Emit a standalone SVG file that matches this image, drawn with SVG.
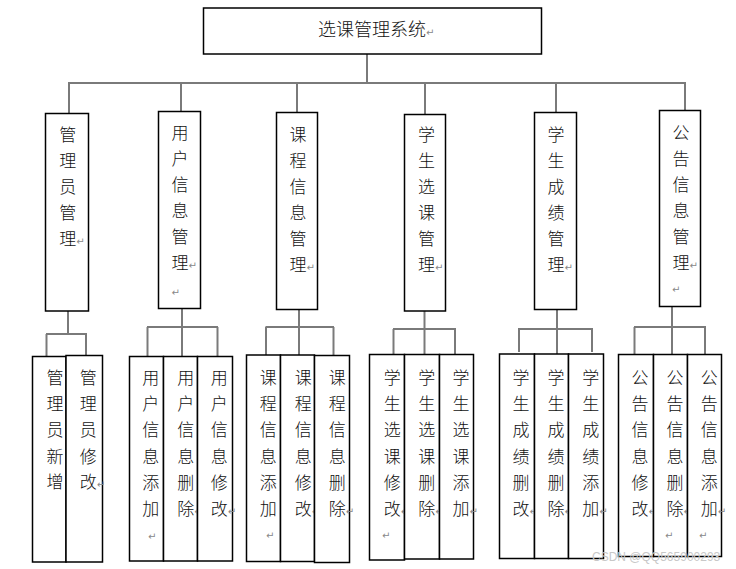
<svg xmlns="http://www.w3.org/2000/svg" width="736" height="569" viewBox="0 0 736 569">
<style>
.bx{fill:#fff;stroke:#000;stroke-width:1.5}
.cn line{stroke:#7a7a7a;stroke-width:2}
.t{font-family:"Noto Sans CJK SC","Noto Sans CJK JP",sans-serif;font-size:17px;font-weight:300;fill:#111}
.tt{font-family:"Noto Sans CJK SC","Noto Sans CJK JP",sans-serif;font-size:18px;font-weight:300;fill:#111}
.r{font-family:"DejaVu Sans",sans-serif;font-size:10px;font-weight:400;fill:#888}
.wm{font-family:"Liberation Sans",Arial,sans-serif;font-size:12px;fill:#c8c8c8}
</style>
<rect width="736" height="569" fill="#fff"/>
<g id="connectors" class="cn">
<line x1="367" y1="54" x2="367" y2="83"/>
<line x1="68" y1="83" x2="686" y2="83"/>
<line x1="69" y1="83" x2="69" y2="113"/>
<line x1="181" y1="83" x2="181" y2="111"/>
<line x1="297" y1="83" x2="297" y2="113"/>
<line x1="425" y1="83" x2="425" y2="115"/>
<line x1="556" y1="83" x2="556" y2="112"/>
<line x1="685" y1="83" x2="685" y2="110"/>
<line x1="68" y1="311" x2="68" y2="334"/>
<line x1="46" y1="334" x2="87" y2="334"/>
<line x1="46.5" y1="334" x2="46.5" y2="357"/>
<line x1="86" y1="334" x2="86" y2="355"/>
<line x1="182" y1="308" x2="182" y2="357"/>
<line x1="147" y1="327" x2="218" y2="327"/>
<line x1="147.5" y1="327" x2="147.5" y2="357"/>
<line x1="217.5" y1="327" x2="217.5" y2="357"/>
<line x1="299" y1="309" x2="299" y2="355"/>
<line x1="265.5" y1="327" x2="334" y2="327"/>
<line x1="266" y1="327" x2="266" y2="355"/>
<line x1="333.5" y1="327" x2="333.5" y2="355"/>
<line x1="424.5" y1="311" x2="424.5" y2="354"/>
<line x1="393" y1="329" x2="456" y2="329"/>
<line x1="393.5" y1="329" x2="393.5" y2="354"/>
<line x1="455" y1="329" x2="455" y2="354"/>
<line x1="557" y1="309" x2="557" y2="354"/>
<line x1="518" y1="329" x2="593" y2="329"/>
<line x1="519" y1="329" x2="519" y2="352"/>
<line x1="592" y1="329" x2="592" y2="352"/>
<line x1="672" y1="306" x2="672" y2="354"/>
<line x1="634" y1="327" x2="706" y2="327"/>
<line x1="634.5" y1="327" x2="634.5" y2="354"/>
<line x1="705" y1="327" x2="705" y2="354"/>
</g>
<g id="root">
<rect class="bx" x="203.5" y="8" width="338" height="46"/>
<text class="tt" x="318" y="36">选课管理系统<tspan class="r">↵</tspan></text>
</g>
<g id="n-admin">
<rect class="bx" x="45.5" y="113.5" width="43" height="197.5"/>
<text class="t" x="59.2" y="141"><tspan>管</tspan><tspan x="59.2" dy="26">理</tspan><tspan x="59.2" dy="26">员</tspan><tspan x="59.2" dy="26">管</tspan><tspan x="59.2" dy="25.5">理</tspan><tspan class="r">↵</tspan></text>
</g>
<g id="n-user">
<rect class="bx" x="158.5" y="111.5" width="42" height="197"/>
<text class="t" x="171.5" y="139"><tspan>用</tspan><tspan x="171.5" dy="26">户</tspan><tspan x="171.5" dy="26">信</tspan><tspan x="171.5" dy="26">息</tspan><tspan x="171.5" dy="26">管</tspan><tspan x="171.5" dy="26">理</tspan><tspan class="r">↵</tspan></text>
<text class="r" x="171.5" y="296">↵</text>
</g>
<g id="n-course">
<rect class="bx" x="276.5" y="112.5" width="41" height="197"/>
<text class="t" x="289.5" y="141"><tspan>课</tspan><tspan x="289.5" dy="26">程</tspan><tspan x="289.5" dy="26">信</tspan><tspan x="289.5" dy="26">息</tspan><tspan x="289.5" dy="26">管</tspan><tspan x="289.5" dy="26">理</tspan><tspan class="r">↵</tspan></text>
</g>
<g id="n-select">
<rect class="bx" x="404.5" y="114.5" width="41" height="196.5"/>
<text class="t" x="418" y="141"><tspan>学</tspan><tspan x="418" dy="26">生</tspan><tspan x="418" dy="26">选</tspan><tspan x="418" dy="26">课</tspan><tspan x="418" dy="26">管</tspan><tspan x="418" dy="26">理</tspan><tspan class="r">↵</tspan></text>
</g>
<g id="n-grade">
<rect class="bx" x="534.5" y="112.5" width="42" height="197"/>
<text class="t" x="547.5" y="141"><tspan>学</tspan><tspan x="547.5" dy="26">生</tspan><tspan x="547.5" dy="26">成</tspan><tspan x="547.5" dy="26">绩</tspan><tspan x="547.5" dy="26">管</tspan><tspan x="547.5" dy="26">理</tspan><tspan class="r">↵</tspan></text>
</g>
<g id="n-notice">
<rect class="bx" x="659.5" y="110.5" width="41" height="196"/>
<text class="t" x="672.5" y="139"><tspan>公</tspan><tspan x="672.5" dy="26">告</tspan><tspan x="672.5" dy="26">信</tspan><tspan x="672.5" dy="26">息</tspan><tspan x="672.5" dy="26">管</tspan><tspan x="672.5" dy="26">理</tspan><tspan class="r">↵</tspan></text>
<text class="r" x="672" y="293">↵</text>
</g>
<g id="l-admin-add">
<rect class="bx" x="32.5" y="356.5" width="33.5" height="205.5"/>
<text class="t" x="46.5" y="384"><tspan>管</tspan><tspan x="46.5" dy="25.5">理</tspan><tspan x="46.5" dy="26.5">员</tspan><tspan x="46.5" dy="26.5">新</tspan><tspan x="46.5" dy="25.5">增</tspan></text>
</g>
<g id="l-admin-edit">
<rect class="bx" x="66" y="355.5" width="36.5" height="206.5"/>
<text class="t" x="79.8" y="384"><tspan>管</tspan><tspan x="79.8" dy="25.5">理</tspan><tspan x="79.8" dy="26.5">员</tspan><tspan x="79.8" dy="26.5">修</tspan><tspan x="79.8" dy="25.5">改</tspan><tspan class="r">↵</tspan></text>
</g>
<g id="l-user-add">
<rect class="bx" x="129.5" y="356.5" width="34" height="204.5"/>
<text class="t" x="142.2" y="384"><tspan>用</tspan><tspan x="142.2" dy="25.5">户</tspan><tspan x="142.2" dy="26.5">信</tspan><tspan x="142.2" dy="26.5">息</tspan><tspan x="142.2" dy="26">添</tspan><tspan x="142.2" dy="26">加</tspan></text>
<text class="r" x="148" y="540">↵</text>
</g>
<g id="l-user-del">
<rect class="bx" x="163.5" y="356.5" width="34" height="204.5"/>
<text class="t" x="177.2" y="384"><tspan>用</tspan><tspan x="177.2" dy="25.5">户</tspan><tspan x="177.2" dy="26.5">信</tspan><tspan x="177.2" dy="26.5">息</tspan><tspan x="177.2" dy="26">删</tspan><tspan x="177.2" dy="26">除</tspan><tspan class="r">↵</tspan></text>
</g>
<g id="l-user-edit">
<rect class="bx" x="197.5" y="356.5" width="35" height="204.5"/>
<text class="t" x="210.8" y="384"><tspan>用</tspan><tspan x="210.8" dy="25.5">户</tspan><tspan x="210.8" dy="26.5">信</tspan><tspan x="210.8" dy="26.5">息</tspan><tspan x="210.8" dy="26">修</tspan><tspan x="210.8" dy="26">改</tspan><tspan class="r">↵</tspan></text>
</g>
<g id="l-course-add">
<rect class="bx" x="246.5" y="355" width="34" height="206.5"/>
<text class="t" x="259.8" y="384"><tspan>课</tspan><tspan x="259.8" dy="25.5">程</tspan><tspan x="259.8" dy="26.5">信</tspan><tspan x="259.8" dy="26.5">息</tspan><tspan x="259.8" dy="26">添</tspan><tspan x="259.8" dy="26">加</tspan></text>
<text class="r" x="266" y="539">↵</text>
</g>
<g id="l-course-edit">
<rect class="bx" x="280.5" y="355" width="34" height="206.5"/>
<text class="t" x="294.8" y="384"><tspan>课</tspan><tspan x="294.8" dy="25.5">程</tspan><tspan x="294.8" dy="26.5">信</tspan><tspan x="294.8" dy="26.5">息</tspan><tspan x="294.8" dy="26">修</tspan><tspan x="294.8" dy="26">改</tspan><tspan class="r">↵</tspan></text>
</g>
<g id="l-course-del">
<rect class="bx" x="314.5" y="355.5" width="35" height="207"/>
<text class="t" x="328.8" y="384"><tspan>课</tspan><tspan x="328.8" dy="25.5">程</tspan><tspan x="328.8" dy="26.5">信</tspan><tspan x="328.8" dy="26.5">息</tspan><tspan x="328.8" dy="26">删</tspan><tspan x="328.8" dy="26">除</tspan><tspan class="r">↵</tspan></text>
</g>
<g id="l-select-edit">
<rect class="bx" x="369.5" y="354.5" width="35" height="205.5"/>
<text class="t" x="383.8" y="384"><tspan>学</tspan><tspan x="383.8" dy="25.5">生</tspan><tspan x="383.8" dy="26.5">选</tspan><tspan x="383.8" dy="26.5">课</tspan><tspan x="383.8" dy="26">修</tspan><tspan x="383.8" dy="26">改</tspan><tspan class="r">↵</tspan></text>
<text class="r" x="382" y="539">↵</text>
</g>
<g id="l-select-del">
<rect class="bx" x="404.5" y="354.5" width="35" height="204.5"/>
<text class="t" x="418.2" y="384"><tspan>学</tspan><tspan x="418.2" dy="25.5">生</tspan><tspan x="418.2" dy="26.5">选</tspan><tspan x="418.2" dy="26.5">课</tspan><tspan x="418.2" dy="26">删</tspan><tspan x="418.2" dy="26">除</tspan><tspan class="r">↵</tspan></text>
</g>
<g id="l-select-add">
<rect class="bx" x="439.5" y="354.5" width="34" height="204.5"/>
<text class="t" x="452.5" y="384"><tspan>学</tspan><tspan x="452.5" dy="25.5">生</tspan><tspan x="452.5" dy="26.5">选</tspan><tspan x="452.5" dy="26.5">课</tspan><tspan x="452.5" dy="26">添</tspan><tspan x="452.5" dy="26">加</tspan><tspan class="r">↵</tspan></text>
</g>
<g id="l-grade-edit">
<rect class="bx" x="499.5" y="354" width="35" height="204.5"/>
<text class="t" x="512.5" y="384"><tspan>学</tspan><tspan x="512.5" dy="25.5">生</tspan><tspan x="512.5" dy="26.5">成</tspan><tspan x="512.5" dy="26.5">绩</tspan><tspan x="512.5" dy="26">删</tspan><tspan x="512.5" dy="26">改</tspan><tspan class="r">↵</tspan></text>
</g>
<g id="l-grade-del">
<rect class="bx" x="534.5" y="354" width="34" height="204.5"/>
<text class="t" x="547.5" y="384"><tspan>学</tspan><tspan x="547.5" dy="25.5">生</tspan><tspan x="547.5" dy="26.5">成</tspan><tspan x="547.5" dy="26.5">绩</tspan><tspan x="547.5" dy="26">删</tspan><tspan x="547.5" dy="26">除</tspan><tspan class="r">↵</tspan></text>
</g>
<g id="l-grade-add">
<rect class="bx" x="568.5" y="354" width="35" height="204.5"/>
<text class="t" x="582.2" y="384"><tspan>学</tspan><tspan x="582.2" dy="25.5">生</tspan><tspan x="582.2" dy="26.5">成</tspan><tspan x="582.2" dy="26.5">绩</tspan><tspan x="582.2" dy="26">添</tspan><tspan x="582.2" dy="26">加</tspan><tspan class="r">↵</tspan></text>
</g>
<g id="l-notice-edit">
<rect class="bx" x="618.5" y="354.5" width="35" height="202"/>
<text class="t" x="631.5" y="384"><tspan>公</tspan><tspan x="631.5" dy="25.5">告</tspan><tspan x="631.5" dy="26.5">信</tspan><tspan x="631.5" dy="26.5">息</tspan><tspan x="631.5" dy="26">修</tspan><tspan x="631.5" dy="26">改</tspan><tspan class="r">↵</tspan></text>
</g>
<g id="l-notice-del">
<rect class="bx" x="653.5" y="354.5" width="34" height="202"/>
<text class="t" x="666.5" y="384"><tspan>公</tspan><tspan x="666.5" dy="25.5">告</tspan><tspan x="666.5" dy="26.5">信</tspan><tspan x="666.5" dy="26.5">息</tspan><tspan x="666.5" dy="26">删</tspan><tspan x="666.5" dy="26">除</tspan><tspan class="r">↵</tspan></text>
<text class="r" x="665" y="539">↵</text>
</g>
<g id="l-notice-add">
<rect class="bx" x="687.5" y="354.5" width="34" height="202"/>
<text class="t" x="700.8" y="384"><tspan>公</tspan><tspan x="700.8" dy="25.5">告</tspan><tspan x="700.8" dy="26.5">信</tspan><tspan x="700.8" dy="26.5">息</tspan><tspan x="700.8" dy="26">添</tspan><tspan x="700.8" dy="26">加</tspan><tspan class="r">↵</tspan></text>
<text class="r" x="699" y="539">↵</text>
</g>
<text class="wm" x="592" y="561">CSDN @QQ565900293</text>
</svg>
